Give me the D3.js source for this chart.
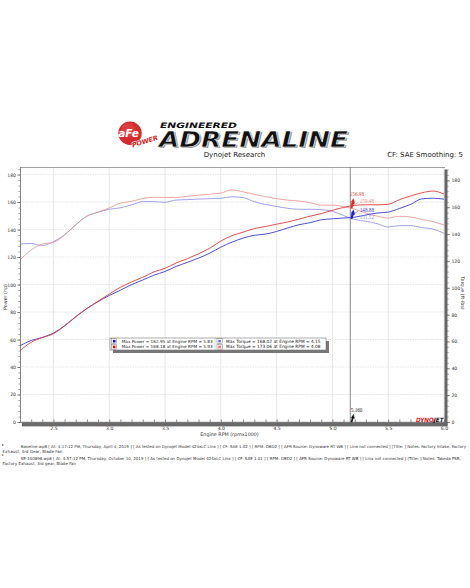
<!DOCTYPE html>
<html><head><meta charset="utf-8">
<script src="https://cdn.jsdelivr.net/npm/d3@7"></script>
<style>html,body{margin:0;padding:0;background:#fff;} svg{display:block;}</style>
</head><body><svg id="c" width="470" height="588"></svg>
<script>
// ---- data ----
const rpm = [2.2,2.3,2.4,2.5,2.6,2.7,2.8,2.9,3.0,3.1,3.2,3.3,3.4,3.5,3.6,3.7,3.8,3.9,4.0,4.1,4.2,4.3,4.4,4.5,4.6,4.7,4.8,4.9,5.0,5.1,5.2,5.3,5.4,5.5,5.6,5.7,5.8,5.9,6.0];
const powerBase = [55.5,59.3,61.5,64.7,70.0,76.6,82.6,87.6,92.0,95.9,99.9,103.3,106.8,109.5,113.2,116.1,119.2,122.8,127.2,130.8,133.8,135.8,136.7,138.6,141.2,143.5,145.0,147.1,147.8,148.4,149.0,150.6,152.0,152.7,155.3,158.3,162.3,162.8,162.1];
const powerNew  = [51.9,58.0,61.5,64.2,70.0,76.6,82.6,87.9,93.1,98.0,101.9,105.3,109.2,111.8,115.7,118.8,122.4,126.4,131.6,135.6,138.1,140.7,142.2,143.9,145.5,147.6,149.7,151.6,154.0,156.1,157.6,158.0,158.0,158.4,161.7,164.4,166.7,168.0,165.8];
const torqueBase = [132.6,133.0,131.5,134.4,139.5,146.9,153.4,156.3,158.5,159.6,161.8,164.2,164.2,163.7,165.4,165.7,166.1,166.4,166.7,167.8,167.2,164.1,162.1,160.6,159.2,158.5,158.5,158.2,157.0,153.8,150.9,149.6,147.8,145.3,146.3,146.3,144.9,143.8,140.6];
const torqueNew  = [120.7,128.2,132.6,133.8,139.3,146.9,153.4,156.3,159.5,163.1,164.4,166.5,167.4,167.3,167.3,168.2,169.0,169.7,170.6,172.9,171.5,169.6,167.9,166.4,165.3,164.7,163.4,161.6,161.6,160.4,158.6,155.6,153.4,152.0,153.3,152.8,151.0,149.3,146.8];
const xTicks = [2.5,3.0,3.5,4.0,4.5,5.0,5.5,6.0];
const leftTicks = [0,20,40,60,80,100,120,140,160,180];
const rightTicks = [0,20,40,60,80,100,120,140,160,180];
const cursorRpm = 5.16;
const cursorVals = {powerNew:156.98, torqueNew:159.48, powerBase:148.88, torqueBase:151.52};
const legendRows = [
  ["Max Power = 162.95 at Engine RPM = 5.83","Max Torque = 168.02 at Engine RPM = 4.15"],
  ["Max Power = 168.18 at Engine RPM = 5.93","Max Torque = 173.06 at Engine RPM = 4.08"]
];
const notes = [
  "Baseline.wp8 [ At: 4:17:12 PM, Thursday, April 4, 2019 ] [ As tested on Dynojet Model 424xLC Linx ] [ CF: SAE 1.02 ] [ RPM: OBD2 ] [ AFR Source: Dynoware RT WB ] [ Linx not connected ] [Title: ]  Notes: Factory Intake, Factory",
  "Exhaust, 3rd Gear, Blade Fan",
  "SE-100898.wp8 [ At: 4:57:12 PM, Thursday, October 10, 2019 ] [ As tested on Dynojet Model 424xLC Linx ] [ CF: SAE 1.01 ] [ RPM: OBD2 ] [ AFR Source: Dynoware RT WB ] [ Linx not connected ] [Title: ]  Notes: Takeda PSR,",
  "Factory Exhaust, 3rd gear, Blade Fan"
];

// ---- colours ----
const C = {pBlue:"#3a3ad8", tBlue:"#9696e6", pRed:"#e43a3a", tRed:"#ee9c9c"};
const FONT = "Tahoma, 'DejaVu Sans', sans-serif";

const svg = d3.select("#c");
svg.append("rect").attr("width",470).attr("height",588).attr("fill","#fff");

// fit a text's natural width to a target by adjusting its font size
function fitText(sel, target){
  const n = sel.node();
  const w = n.getComputedTextLength();
  const fs = parseFloat(sel.attr("font-size"));
  if (w > 0) sel.attr("font-size", (fs*target/w).toFixed(3));
  return sel;
}

const L=20,R=444,T=167,B=422;
const x = d3.scaleLinear().domain([2.2,6.0]).range([L,R]);
const yL = d3.scaleLinear().domain([0,185.5]).range([B,T]);
const yR = d3.scaleLinear().domain([0,190]).range([B,T]);

// ---- header / logo ----
const lg = svg.append("g");
lg.append("circle").attr("cx",130).attr("cy",133.3).attr("r",11.7).attr("fill","#d52a2e");
lg.append("circle").attr("cx",128).attr("cy",130).attr("r",7).attr("fill","#e85050").attr("opacity",0.5);
lg.append("text").attr("x",128.5).attr("y",136.5).attr("text-anchor","middle")
  .attr("font-family","'DejaVu Sans'").attr("font-weight","bold").attr("font-style","italic")
  .attr("font-size",10.5).attr("fill","#fff").text("aFe");
lg.append("text").attr("transform","translate(145.5,143.5) rotate(-17)").attr("text-anchor","middle")
  .attr("font-family","'DejaVu Sans'").attr("font-weight","bold").attr("font-style","italic")
  .attr("font-size",6.5).attr("fill","#e52020").attr("stroke","#fff").attr("stroke-width",1.2)
  .attr("paint-order","stroke").text("POWER");
lg.append("text").attr("x",160).attr("y",128.3).attr("textLength",77).attr("lengthAdjust","spacingAndGlyphs")
  .attr("font-family","'DejaVu Sans'").attr("font-weight","bold").attr("font-style","italic")
  .attr("font-size",7.4).attr("fill","#111").text("ENGINEERED");
lg.append("text").attr("x",160.5).attr("y",148).attr("textLength",189).attr("lengthAdjust","spacingAndGlyphs")
  .attr("font-family","'DejaVu Sans'").attr("font-weight","bold").attr("font-style","italic")
  .attr("font-size",20.8).attr("fill","#9a9a9a").text("ADRENALINE");
lg.append("text").attr("x",159).attr("y",146.6).attr("textLength",189).attr("lengthAdjust","spacingAndGlyphs")
  .attr("font-family","'DejaVu Sans'").attr("font-weight","bold").attr("font-style","italic")
  .attr("font-size",20.8).attr("fill","#111").attr("stroke","#fff").attr("stroke-width",0.5).text("ADRENALINE");

svg.append("text").attr("x",234.5).attr("y",157.4).attr("text-anchor","middle")
  .attr("font-family",FONT).attr("font-size",7).attr("fill","#222").text("Dynojet Research");
svg.append("text").attr("x",463).attr("y",157.4).attr("text-anchor","end")
  .attr("font-family",FONT).attr("font-size",7).attr("fill","#222").text("CF: SAE Smoothing: 5");

// ---- grid ----
const grid = svg.append("g");
grid.selectAll("line.v").data(xTicks).join("line")
  .attr("x1",d=>x(d)).attr("x2",d=>x(d)).attr("y1",T).attr("y2",B)
  .attr("stroke","#dcdcdc").attr("stroke-width",0.7);
grid.selectAll("line.h").data(leftTicks.slice(1)).join("line")
  .attr("x1",L).attr("x2",R).attr("y1",d=>yL(d)).attr("y2",d=>yL(d))
  .attr("stroke","#dcdcdc").attr("stroke-width",0.7).attr("stroke-dasharray","1.5,1");

// frame
svg.append("line").attr("x1",L).attr("x2",R+1).attr("y1",T+0.5).attr("y2",T+0.5).attr("stroke","#8a8a8a").attr("stroke-width",0.8);

// ---- curves ----
const line = (ys, sc) => d3.line().x((d,i)=>x(rpm[i])).y(d=>sc(d)).curve(d3.curveMonotoneX)(ys);
const curves = svg.append("g").attr("fill","none").attr("stroke-width",0.9);
curves.append("path").attr("d",line(torqueBase,yR)).attr("stroke",C.tBlue);
curves.append("path").attr("d",line(torqueNew,yR)).attr("stroke",C.tRed);
curves.append("path").attr("d",line(powerBase,yL)).attr("stroke",C.pBlue);
curves.append("path").attr("d",line(powerNew,yL)).attr("stroke",C.pRed);

// ---- cursor ----
const cx = x(cursorRpm);
svg.append("line").attr("x1",cx).attr("x2",cx).attr("y1",T).attr("y2",B).attr("stroke","#7a7a7a").attr("stroke-width",0.9);
const arrow = "M0,0 L1.2,-4.2 L0.3,-4.2 L2.6,-7.6 L3.6,-3.6 L2.6,-3.9 L1.3,0.3 Z";
function marker(px,py,col){
  svg.append("path").attr("d",arrow).attr("transform",`translate(${px+0.6},${py})`).attr("fill",col).attr("stroke",col).attr("stroke-width",0.4);
}
marker(cx, yL(cursorVals.powerNew), "#e02828");
marker(cx, yR(cursorVals.torqueNew), "#e02828");
marker(cx, yL(cursorVals.powerBase), "#2020d8");
marker(cx, yR(cursorVals.torqueBase), "#2020d8");
marker(cx, B, "#111");
const lab = (tx,ty,t,col)=>svg.append("text").attr("x",tx).attr("y",ty).attr("font-family","'Liberation Serif', serif")
  .attr("font-size",5.2).attr("fill",col).text(t);
lab(cx-0.5, 195.8, cursorVals.powerNew.toFixed(2), "#e04848");
lab(cx+9.5, 203.4, cursorVals.torqueNew.toFixed(2), "#ec8c8c");
lab(cx+9.5, 212.4, cursorVals.powerBase.toFixed(2), "#3434c8");
lab(cx+9.5, 219.4, cursorVals.torqueBase.toFixed(2), "#8c8cdc");
svg.append("line").attr("x1",cx+4.5).attr("x2",cx+8).attr("y1",yR(cursorVals.torqueNew)-3).attr("y2",202).attr("stroke","#ec8c8c").attr("stroke-width",0.5);
svg.append("line").attr("x1",cx+4.5).attr("x2",cx+8).attr("y1",yL(cursorVals.powerBase)-4).attr("y2",211).attr("stroke","#3434c8").attr("stroke-width",0.5);
svg.append("text").attr("x",cx+0.5).attr("y",411.6).attr("font-family","'Liberation Serif', serif")
  .attr("font-size",5.2).attr("fill","#222").text(cursorRpm.toFixed(3));

// ---- axes ----
const axFont = g => g.selectAll("text").attr("font-family",FONT).attr("font-size",4.6).attr("fill","#333");
// bottom
const bx = svg.append("g").attr("transform",`translate(0,${B})`);
bx.call(d3.axisBottom(x).tickValues(d3.range(23,61).map(v=>v/10)).tickFormat("").tickSizeInner(-2.6).tickSizeOuter(0))
  .call(g=>g.select(".domain").remove()).call(g=>g.selectAll("line").attr("stroke","#444").attr("stroke-width",0.6));
bx.append("rect").attr("x",L+2).attr("y",0.8).attr("width",R-L+1.5).attr("height",3.6).attr("fill","#6a6a6a");
bx.append("line").attr("x1",L).attr("x2",R+2).attr("y1",0.3).attr("y2",0.3).attr("stroke","#444").attr("stroke-width",0.8);
svg.append("g").attr("transform",`translate(0,${B})`)
  .call(d3.axisBottom(x).tickValues(xTicks).tickFormat(d3.format(".1f")).tickSize(0).tickPadding(4.6))
  .call(g=>g.select(".domain").remove()).call(axFont);
// left
const la = svg.append("g").attr("transform",`translate(${L},0)`);
la.call(d3.axisLeft(yL).tickValues(d3.range(0,185,4)).tickFormat("").tickSizeInner(1.6).tickSizeOuter(0))
  .call(g=>g.select(".domain").remove()).call(g=>g.selectAll("line").attr("stroke","#555").attr("stroke-width",0.5));
la.append("g").call(d3.axisLeft(yL).tickValues(leftTicks).tickSizeInner(2.8).tickSizeOuter(0).tickPadding(1.2))
  .call(g=>g.select(".domain").attr("stroke","#666").attr("stroke-width",0.8))
  .call(g=>g.selectAll("line").attr("stroke","#555").attr("stroke-width",0.6)).call(axFont);
// right
const RA = R+3.2;
svg.append("rect").attr("x",R+0.5).attr("y",T+2.5).attr("width",3).attr("height",B-T+1.5).attr("fill","#666");
const ra = svg.append("g").attr("transform",`translate(${RA},0)`);
ra.call(d3.axisRight(yR).tickValues(d3.range(0,190,4)).tickFormat("").tickSizeInner(1.6).tickSizeOuter(0))
  .call(g=>g.select(".domain").remove()).call(g=>g.selectAll("line").attr("stroke","#555").attr("stroke-width",0.5));
ra.append("g").call(d3.axisRight(yR).tickValues(rightTicks).tickSizeInner(2.8).tickSizeOuter(0).tickPadding(1.4))
  .call(g=>g.select(".domain").remove())
  .call(g=>g.selectAll("line").attr("stroke","#555").attr("stroke-width",0.6)).call(axFont);

// axis titles
svg.append("text").attr("transform","translate(6.6,297) rotate(-90)").attr("text-anchor","middle")
  .attr("font-family",FONT).attr("font-size",4.8).attr("fill","#333").text("Power (hp)");
svg.append("text").attr("transform","translate(460.6,293) rotate(90)").attr("text-anchor","middle")
  .attr("font-family",FONT).attr("font-size",4.8).attr("fill","#333").text("Torque (ft-lbs)");
svg.append("text").attr("x",229.5).attr("y",436.2).attr("text-anchor","middle")
  .attr("font-family",FONT).attr("font-size",4.8).attr("fill","#333").text("Engine RPM (rpmx1000)");

// dynojet logo
const dj = svg.append("text").attr("x",416).attr("y",421.6).attr("textLength",27.5).attr("lengthAdjust","spacingAndGlyphs")
  .attr("font-family","'DejaVu Sans'").attr("font-weight","bold").attr("font-style","italic").attr("font-size",6);
dj.append("tspan").attr("fill","#e41e2a").text("DYNO");
dj.append("tspan").attr("fill","#111").text("JET");

// ---- legend ----
const lgX=110, lgY=338, lgW=216, lgH=12;
svg.append("rect").attr("x",lgX+3).attr("y",lgY+3).attr("width",lgW).attr("height",lgH).attr("fill","#777");
svg.append("rect").attr("x",lgX).attr("y",lgY).attr("width",lgW).attr("height",lgH).attr("fill","#fff").attr("stroke","#777").attr("stroke-width",0.6);
svg.append("line").attr("x1",lgX+105).attr("x2",lgX+105).attr("y1",lgY).attr("y2",lgY+lgH).attr("stroke","#999").attr("stroke-width",0.4);
const sw = [["#1010e0","#7070ee"],["#e01010","#f07070"]];
legendRows.forEach((row,ri)=>{
  const cy = lgY + 3 + ri*5.7;
  [0,1].forEach(ci=>{
    const sx = ci===0 ? lgX+1.6 : lgX+107;
    svg.append("rect").attr("x",sx).attr("y",cy-2.2).attr("width",5.2).attr("height",4.6).attr("fill","#fff").attr("stroke","#555").attr("stroke-width",0.4);
    svg.append("rect").attr("x",sx+1.3).attr("y",cy-1.1).attr("width",2.6).attr("height",2.6).attr("fill",sw[ri][ci]);
    const t = svg.append("text").attr("x",ci===0 ? lgX+11.7 : lgX+116).attr("y",cy+1.6)
      .attr("font-family",FONT).attr("font-size",4.6).attr("fill","#222").text(row[ci]);
    fitText(t, ci===0?91:94.7);
  });
});

// ---- footnotes ----
svg.append("circle").attr("cx",2.8).attr("cy",445).attr("r",0.8).attr("fill","#2a2ae0");
svg.append("circle").attr("cx",2.8).attr("cy",455).attr("r",0.8).attr("fill","#e02a2a");
const nY=[448,452.5,460,464.8], nX=[20.7,2.5,20.7,2.5], nLen=[446,60,440.5,73.5];
notes.forEach((t,i)=>{
  const s = svg.append("text").attr("x",nX[i]).attr("y",nY[i])
    .attr("font-family",FONT).attr("font-size",4.4).attr("fill","#333").text(t);
  fitText(s, nLen[i]);
});
</script></body></html>
